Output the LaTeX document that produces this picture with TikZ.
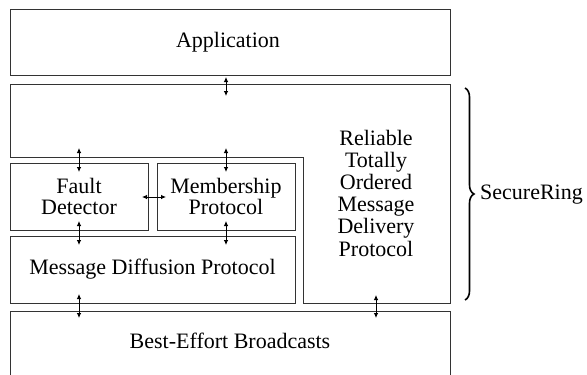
\documentclass[tikz,border=0pt]{standalone}
\usepackage{fontspec}
\setmainfont{Liberation Serif}
\usetikzlibrary{arrows.meta,decorations.pathreplacing}
\begin{document}
\begin{tikzpicture}[x=1pt,y=-1pt,
  txt/.style={font=\fontsize{22}{21.5}\selectfont, align=center, inner sep=0pt},
  box/.style={txt, draw=black!80, line width=0.9pt},
  dbl/.style={{Latex[length=5pt,width=4.5pt]}-{Latex[length=5pt,width=4.5pt]}, line width=0.8pt}]
\useasboundingbox (0,0) rectangle (587,375);
% boxes
\node[box, minimum width=440pt, minimum height=66pt] (app) at (230,42) {};
\node[txt, anchor=base] (appt) at (228,47) {Application};
\draw[draw=black!80, line width=0.9pt] (10,84) -- (450,84) -- (450,303) -- (303,303) -- (303,157) -- (10,157) -- cycle;
\node[txt, font=\fontsize{22}{22.2}\selectfont] (rel) at (376,193) {Reliable\\Totally\\Ordered\\Message\\Delivery\\Protocol};
\node[box, minimum width=138pt, minimum height=67pt] (fault) at (79,196.5) {Fault\\Detector};
\node[box, minimum width=138pt, minimum height=67pt] (memb) at (226,196.5) {Membership\\Protocol};
\node[box, minimum width=285pt, minimum height=67pt] (diff) at (152.5,269.5) {Message Diffusion Protocol};
\node[box, minimum width=440pt, minimum height=66pt] (best) at (230,344) {};
\node[txt, anchor=base] (bestt) at (230,348) {Best-Effort Broadcasts};
% arrow end points
\coordinate (a1) at (226,77); \coordinate (a2) at (226,96);
\coordinate (b1) at (79,148); \coordinate (b2) at (79,172);
\coordinate (c1) at (226,148); \coordinate (c2) at (226,172);
\coordinate (d1) at (142,197); \coordinate (d2) at (166,197);
\coordinate (e1) at (79,221); \coordinate (e2) at (79,245);
\coordinate (f1) at (226,221); \coordinate (f2) at (226,245);
\coordinate (g1) at (79,294); \coordinate (g2) at (79,318);
\coordinate (h1) at (376,295); \coordinate (h2) at (376,318);
\foreach \s in {a,b,c,d,e,f,g,h} \draw[dbl] (\s1) -- (\s2);
% brace
\coordinate (br1) at (465,88); \coordinate (br2) at (465,300);
\draw[decorate, decoration={brace, amplitude=9pt}, line width=1.6pt] (br1) -- (br2);
\node[txt, anchor=west] (sr) at (480,195) {SecureRing};
\end{tikzpicture}
\end{document}
